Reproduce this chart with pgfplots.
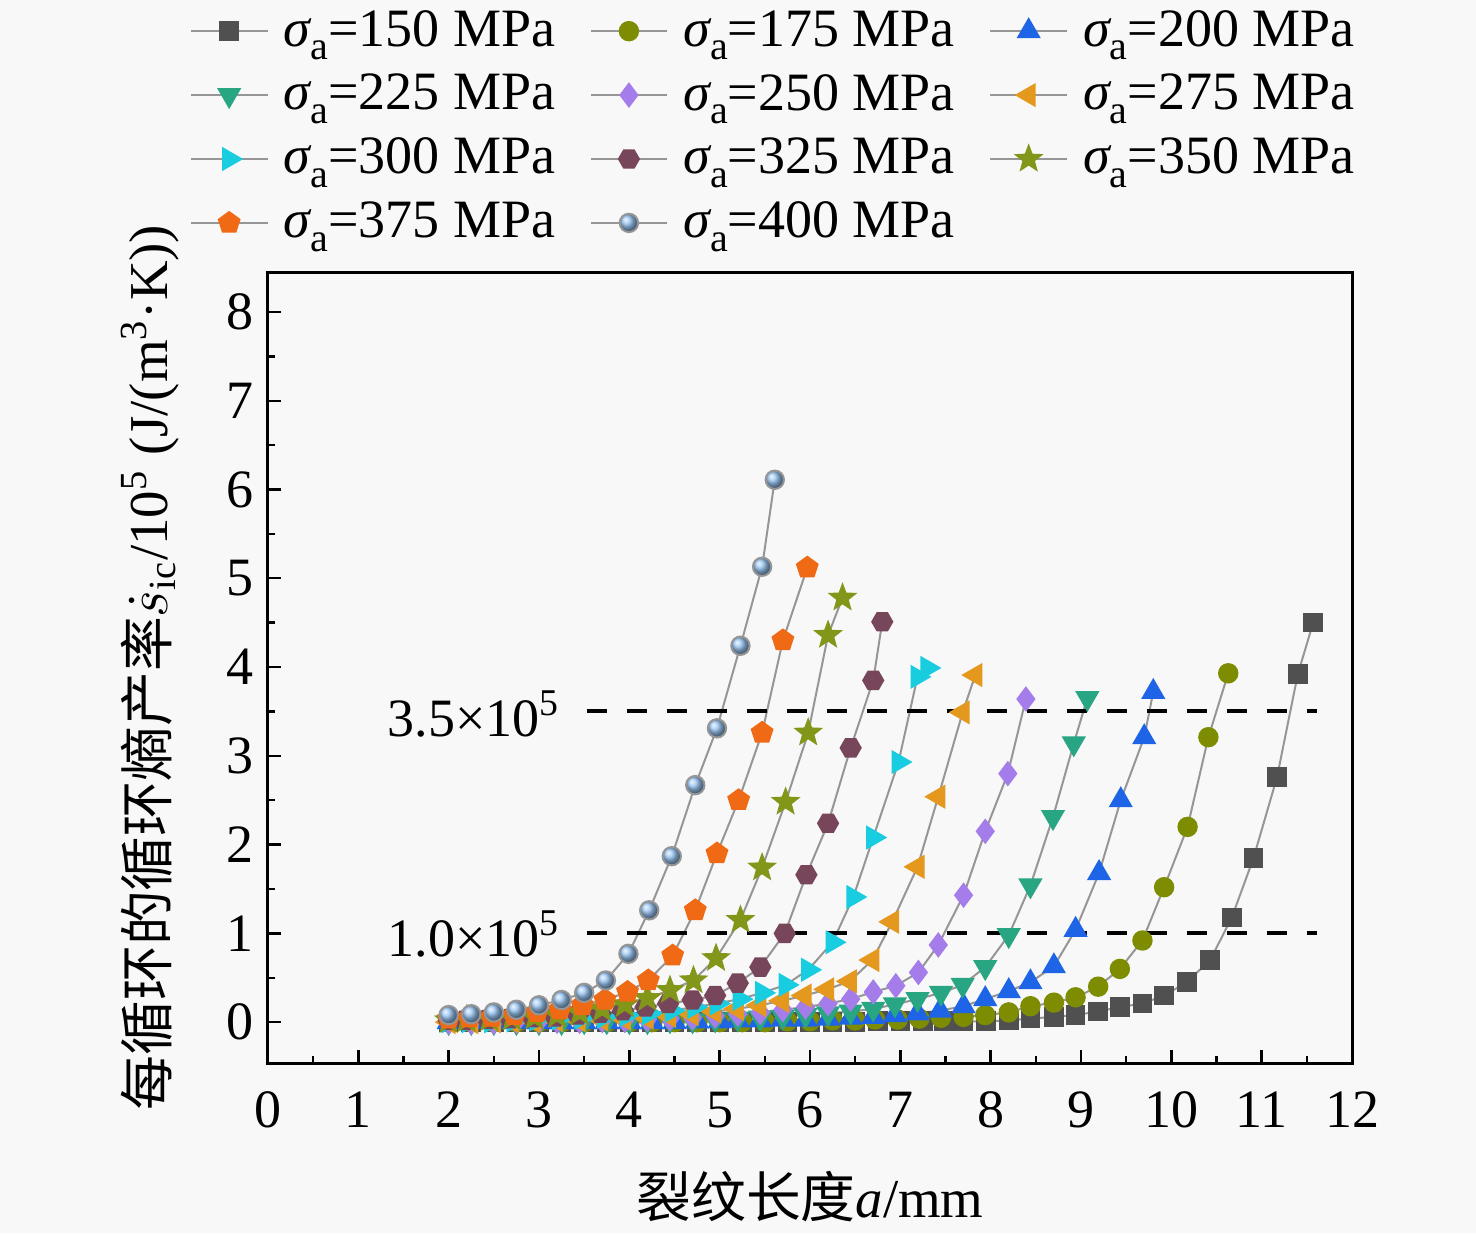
\documentclass[border=0pt]{standalone}
\usepackage{fontspec}
\setmainfont{Liberation Serif}
\newfontfamily\cjk{Noto Sans CJK SC}
\usepackage{pgfplots}
\pgfplotsset{compat=1.18}
\usetikzlibrary{plotmarks}

\definecolor{bg}{RGB}{248,248,248}
\definecolor{lc}{RGB}{150,150,150}
\definecolor{c150}{RGB}{80,80,80}
\definecolor{c175}{RGB}{125,140,0}
\definecolor{c200}{RGB}{30,100,230}
\definecolor{c225}{RGB}{40,165,130}
\definecolor{c250}{RGB}{165,125,235}
\definecolor{c275}{RGB}{228,152,30}
\definecolor{c300}{RGB}{25,205,225}
\definecolor{c325}{RGB}{120,70,90}
\definecolor{c350}{RGB}{130,150,25}
\definecolor{c375}{RGB}{240,105,20}
\definecolor{c400}{RGB}{150,195,240}

\pgfdeclareplotmark{hexagon*}{%
  \pgfpathmoveto{\pgfpointpolar{0}{\pgfplotmarksize}}%
  \pgfpathlineto{\pgfpointpolar{60}{\pgfplotmarksize}}%
  \pgfpathlineto{\pgfpointpolar{120}{\pgfplotmarksize}}%
  \pgfpathlineto{\pgfpointpolar{180}{\pgfplotmarksize}}%
  \pgfpathlineto{\pgfpointpolar{240}{\pgfplotmarksize}}%
  \pgfpathlineto{\pgfpointpolar{300}{\pgfplotmarksize}}%
  \pgfpathclose\pgfusepathqfillstroke}
\pgfdeclareplotmark{fstar}{%
  \pgfpathmoveto{\pgfpointpolar{90}{\pgfplotmarksize}}%
  \pgfpathlineto{\pgfpointpolar{126}{0.42*\pgfplotmarksize}}%
  \pgfpathlineto{\pgfpointpolar{162}{\pgfplotmarksize}}%
  \pgfpathlineto{\pgfpointpolar{198}{0.42*\pgfplotmarksize}}%
  \pgfpathlineto{\pgfpointpolar{234}{\pgfplotmarksize}}%
  \pgfpathlineto{\pgfpointpolar{270}{0.42*\pgfplotmarksize}}%
  \pgfpathlineto{\pgfpointpolar{306}{\pgfplotmarksize}}%
  \pgfpathlineto{\pgfpointpolar{342}{0.42*\pgfplotmarksize}}%
  \pgfpathlineto{\pgfpointpolar{18}{\pgfplotmarksize}}%
  \pgfpathlineto{\pgfpointpolar{54}{0.42*\pgfplotmarksize}}%
  \pgfpathclose\pgfusepathqfillstroke}

\newcommand{\sa}{{\itshape σ}\raisebox{-0.55ex}{\fontsize{10}{11}\selectfont a}}

\begin{document}
\begin{tikzpicture}
\path[use as bounding box, fill=bg] (-67pt,-42.5pt) rectangle (302pt,265.75pt);
\begin{axis}[
  at={(0,0)}, anchor=south west,
  scale only axis, width=271pt, height=197.75pt,
  xmin=0, xmax=12, ymin=-0.46, ymax=8.45,
  xtick={0,1,...,12}, ytick={0,1,...,8},
  minor x tick num=1, minor y tick num=1,
  tick align=inside, tick pos=left,
  major tick length=3.2pt, minor tick length=1.8pt,
  every tick/.style={black, line width=0.6pt},
  axis line style={line width=0.75pt},
  /pgf/number format/assume math mode=true,
  tick label style={font=\fontsize{13.5}{16}\selectfont},
  xticklabel style={yshift=-3.7pt},
  label style={font=\fontsize{13.7}{17}\selectfont},
  xlabel={{\cjk 裂纹长度}\textit{a}/mm},
  ylabel={{\cjk 每循环的循环熵产率}$\dot{s}$\textsubscript{ic}/10\textsuperscript{5} (J/(m\textsuperscript{3}·K))},
  xlabel style={at={(axis description cs:0.5,-0.1694)}, anchor=center},
  ylabel style={at={(axis description cs:-0.1089,0.5)}, anchor=center, rotate=0},
  every axis plot/.append style={color=lc, line width=0.5pt},
  legend columns=3,
  legend cell align=left,
  legend image code/.code={\draw[mark repeat=2,mark phase=2] plot coordinates {(0pt,0pt) (9.6pt,0pt) (19.2pt,0pt)};},
  legend style={at={(axis description cs:-0.0729,1.335)}, anchor=north west, draw=none, fill=none,
    font=\fontsize{13.5}{16}\selectfont, inner sep=0pt, row sep=4.3pt,
    nodes={inner sep=0.6pt},
    /tikz/every odd column/.append style={column sep=3.2pt},
    /tikz/every even column/.append style={column sep=8pt}},
]
\addplot[mark=square*, mark size=2.2pt, mark options={fill=c150, draw=c150}] table {
2.00 0.00
2.25 0.00
2.50 0.00
2.75 0.00
3.00 0.00
3.25 0.00
3.50 0.00
3.75 0.00
4.00 0.00
4.25 0.00
4.50 0.00
4.75 0.00
5.00 0.00
5.25 0.00
5.50 0.00
5.75 0.00
6.00 0.00
6.25 0.00
6.50 0.00
6.75 0.01
7.00 0.01
7.25 0.01
7.48 0.01
7.70 0.01
7.95 0.01
8.20 0.02
8.44 0.04
8.70 0.06
8.94 0.08
9.19 0.12
9.43 0.17
9.68 0.21
9.92 0.30
10.17 0.45
10.43 0.70
10.67 1.18
10.91 1.85
11.17 2.76
11.40 3.92
11.57 4.50
};
\addlegendentry{\sa=150 MPa}
\addplot[mark=*, mark size=2.3pt, mark options={fill=c175, draw=c175}] table {
2.00 0.00
2.25 0.00
2.50 0.00
2.75 0.00
3.00 0.00
3.25 0.00
3.50 0.00
3.75 0.00
4.00 0.00
4.25 0.00
4.50 0.00
4.75 0.00
5.00 0.00
5.25 0.00
5.50 0.00
5.75 0.01
6.00 0.01
6.25 0.02
6.50 0.02
6.72 0.03
6.97 0.03
7.21 0.04
7.45 0.05
7.70 0.06
7.94 0.08
8.20 0.11
8.44 0.18
8.70 0.22
8.94 0.28
9.19 0.40
9.43 0.60
9.68 0.92
9.92 1.52
10.18 2.20
10.41 3.21
10.63 3.93
};
\addlegendentry{\sa=175 MPa}
\addplot[mark=triangle*, mark size=3pt, mark options={fill=c200, draw=c200}] table {
2.00 0.00
2.25 0.00
2.50 0.00
2.75 0.00
3.00 0.00
3.25 0.00
3.50 0.00
3.75 0.00
4.00 0.00
4.25 0.00
4.50 0.00
4.75 0.01
5.00 0.01
5.20 0.02
5.45 0.02
5.70 0.03
5.95 0.03
6.20 0.04
6.45 0.05
6.70 0.06
6.94 0.08
7.19 0.10
7.44 0.13
7.70 0.18
7.94 0.26
8.20 0.35
8.44 0.45
8.70 0.63
8.94 1.04
9.20 1.68
9.44 2.50
9.70 3.21
9.80 3.72
};
\addlegendentry{\sa=200 MPa}
\addplot[mark=triangle*, mark size=3pt, mark options={fill=c225, draw=c225, rotate=180}] table {
2.00 0.00
2.25 0.00
2.50 0.00
2.75 0.00
3.00 0.00
3.25 0.00
3.50 0.01
3.75 0.01
4.00 0.01
4.20 0.01
4.45 0.02
4.70 0.02
4.95 0.03
5.20 0.04
5.45 0.05
5.70 0.06
5.95 0.08
6.20 0.10
6.45 0.12
6.70 0.15
6.94 0.20
7.19 0.26
7.45 0.33
7.69 0.42
7.94 0.62
8.20 0.98
8.44 1.54
8.69 2.31
8.92 3.14
9.07 3.65
};
\addlegendentry{\sa=225 MPa}
\addplot[mark=diamond*, mark size=2.8pt, mark options={fill=c250, draw=c250}] table {
2.00 0.00
2.25 0.00
2.50 0.00
2.75 0.01
3.00 0.01
3.20 0.01
3.45 0.01
3.70 0.02
3.95 0.02
4.20 0.03
4.45 0.04
4.70 0.05
4.95 0.07
5.20 0.09
5.45 0.11
5.70 0.14
5.95 0.17
6.20 0.21
6.45 0.26
6.70 0.34
6.95 0.41
7.20 0.56
7.42 0.87
7.70 1.43
7.94 2.15
8.19 2.80
8.39 3.64
};
\addlegendentry{\sa=250 MPa}
\addplot[mark=triangle*, mark size=3pt, mark options={fill=c275, draw=c275, rotate=90}] table {
2.00 0.00
2.25 0.00
2.50 0.01
2.70 0.01
2.94 0.01
3.19 0.02
3.44 0.02
3.69 0.03
3.94 0.04
4.19 0.05
4.44 0.07
4.69 0.09
4.94 0.12
5.19 0.15
5.44 0.19
5.69 0.24
5.94 0.30
6.19 0.37
6.44 0.46
6.69 0.70
6.91 1.13
7.19 1.75
7.42 2.54
7.69 3.49
7.83 3.91
};
\addlegendentry{\sa=275 MPa}
\addplot[mark=triangle*, mark size=3pt, mark options={fill=c300, draw=c300, rotate=-90}] table {
2.00 0.01
2.22 0.01
2.47 0.01
2.72 0.02
2.97 0.03
3.22 0.04
3.47 0.05
3.72 0.06
3.97 0.08
4.22 0.10
4.47 0.13
4.72 0.17
4.97 0.21
5.22 0.26
5.47 0.33
5.73 0.42
5.98 0.59
6.25 0.90
6.48 1.41
6.70 2.08
6.98 2.93
7.19 3.89
7.30 3.99
};
\addlegendentry{\sa=300 MPa}
\addplot[mark=hexagon*, mark size=2.5pt, mark options={fill=c325, draw=c325}] table {
2.00 0.02
2.18 0.02
2.43 0.03
2.68 0.04
2.93 0.05
3.18 0.06
3.43 0.08
3.68 0.10
3.93 0.13
4.18 0.17
4.43 0.21
4.70 0.25
4.95 0.30
5.20 0.44
5.45 0.62
5.72 1.00
5.96 1.66
6.20 2.24
6.45 3.09
6.70 3.85
6.80 4.51
};
\addlegendentry{\sa=325 MPa}
\addplot[mark=fstar, mark size=3.2pt, mark options={fill=c350, draw=c350}] table {
2.00 0.02
2.20 0.03
2.45 0.04
2.70 0.05
2.95 0.06
3.20 0.08
3.45 0.11
3.70 0.15
3.95 0.20
4.20 0.27
4.45 0.36
4.71 0.47
4.96 0.72
5.23 1.15
5.47 1.74
5.73 2.48
5.98 3.26
6.20 4.36
6.36 4.78
};
\addlegendentry{\sa=350 MPa}
\addplot[mark=pentagon*, mark size=2.7pt, mark options={fill=c375, draw=c375}] table {
2.00 0.04
2.23 0.05
2.48 0.06
2.73 0.08
2.98 0.11
3.23 0.14
3.48 0.19
3.73 0.25
3.98 0.34
4.21 0.47
4.48 0.75
4.73 1.26
4.97 1.90
5.21 2.50
5.47 3.26
5.70 4.30
5.97 5.12
};
\addlegendentry{\sa=375 MPa}
\addplot[mark=ball, mark size=2.3pt, mark options={ball color=c400}] table {
2.00 0.08
2.25 0.09
2.50 0.11
2.75 0.14
3.00 0.19
3.25 0.25
3.50 0.33
3.74 0.47
3.99 0.77
4.22 1.26
4.47 1.87
4.73 2.67
4.97 3.31
5.23 4.24
5.47 5.13
5.61 6.11
};
\addlegendentry{\sa=400 MPa}
\addplot[forget plot, black, line width=1pt, dash pattern=on 5pt off 5pt] coordinates {(3.53,1) (11.61,1)};
\addplot[forget plot, black, line width=1pt, dash pattern=on 5pt off 5pt] coordinates {(3.53,3.5) (11.61,3.5)};
\node[anchor=east, inner sep=0pt, font=\fontsize{13.5}{16}\selectfont] at (axis cs:3.25,0.99) {1.0×10\textsuperscript{5}};
\node[anchor=east, inner sep=0pt, font=\fontsize{13.5}{16}\selectfont] at (axis cs:3.25,3.47) {3.5×10\textsuperscript{5}};
\end{axis}
\end{tikzpicture}
\end{document}
